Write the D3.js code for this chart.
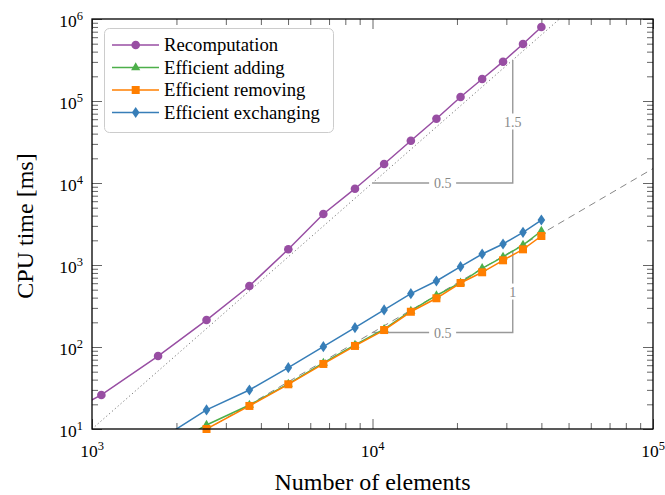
<!DOCTYPE html>
<html>
<head>
<meta charset="utf-8">
<script src="https://cdn.jsdelivr.net/npm/d3@7"></script>
<style>
  body { margin: 0; background: #fff; }
  svg { display: block; font-family: "Liberation Serif", "Times New Roman", serif; }
</style>
</head>
<body>
<svg id="chart" width="665" height="495"></svg>
<script>
// ---- data ----
const elements      = [630, 1080, 1720, 2560, 3640, 5010, 6680, 8660, 11000, 13700, 16900, 20600, 24600, 29200, 34400, 40000];
const recomputation = [10, 26, 77.6, 213, 555, 1553, 4190, 8520, 17050, 32800, 60800, 111900, 185500, 301500, 495700, 798700];
const effAdding     = [null, null, 5.1, 11.2, 19.6, 35.5, 64, 106, 165, 275, 425, 610, 912, 1258, 1750, 2600];
const effRemoving   = [null, null, 4.6, 10, 19.1, 35.1, 62.1, 103, 161, 269, 393, 603, 815, 1141, 1553, 2258];
const effExchanging = [null, null, 7.2, 17.1, 29.9, 55.9, 101, 172, 283, 447, 638, 953, 1362, 1803, 2505, 3537];
const seriesNames   = ["Recomputation", "Efficient adding", "Efficient removing", "Efficient exchanging"];
const xTickExps     = [3, 4, 5];
const yTickExps     = [1, 2, 3, 4, 5, 6];
const xTitle = "Number of elements";
const yTitle = "CPU time [ms]";

// ---- setup ----
const svg = d3.select("#chart");
const L = 92, R = 653, T = 19, B = 429;
const x = d3.scaleLog().domain([1e3, 1e5]).range([L, R]);
const y = d3.scaleLog().domain([1e1, 1e6]).range([B, T]);

const colors  = ["#984ea3", "#4daf4a", "#ff7f00", "#377eb8"];
const markers = ["circle", "triangle", "square", "diamond"];
const values  = [recomputation, effAdding, effRemoving, effExchanging];

svg.append("defs").append("clipPath").attr("id", "clip")
  .append("rect").attr("x", L).attr("y", T).attr("width", R - L).attr("height", B - T);

// ---- ticks (major + minor, inward, all four sides) ----
const xMajor = xTickExps.map(e => Math.pow(10, e));
const yMajor = yTickExps.map(e => Math.pow(10, e));
const xMinor = [], yMinor = [];
[1e3, 1e4].forEach(d => { for (let k = 2; k <= 9; k++) xMinor.push(k * d); });
[1e1, 1e2, 1e3, 1e4, 1e5].forEach(d => { for (let k = 2; k <= 9; k++) yMinor.push(k * d); });

function tickAxis(axisFn, scale, vals, size, tx, ty) {
  const g = svg.append("g").attr("transform", `translate(${tx},${ty})`)
    .call(axisFn(scale).tickValues(vals).tickSizeInner(-size).tickSizeOuter(0).tickFormat(""));
  g.select(".domain").remove();
  g.selectAll(".tick line").attr("stroke", "#666").attr("stroke-width", 1);
  g.selectAll(".tick text").remove();
  return g;
}
tickAxis(d3.axisBottom, x, xMinor, 6, 0, B);
tickAxis(d3.axisBottom, x, xMajor, 10, 0, B);
tickAxis(d3.axisTop, x, xMinor, 6, 0, T);
tickAxis(d3.axisTop, x, xMajor, 10, 0, T);
tickAxis(d3.axisLeft, y, yMinor, 6, L, 0);
tickAxis(d3.axisLeft, y, yMajor, 10, L, 0);
tickAxis(d3.axisRight, y, yMinor, 6, R, 0);
tickAxis(d3.axisRight, y, yMajor, 10, R, 0);

// tick labels with superscripts
const xl = svg.append("g").selectAll("text").data(xTickExps).join("text")
  .attr("x", d => x(Math.pow(10, d))).attr("y", B + 28)
  .attr("text-anchor", "middle").attr("font-size", 17.5).attr("fill", "#000");
xl.append("tspan").text("10");
xl.append("tspan").attr("dy", -7).attr("font-size", 12.5).text(d => d);

const yl = svg.append("g").selectAll("text").data(yTickExps).join("text")
  .attr("x", L - 9).attr("y", d => y(Math.pow(10, d)) + 8)
  .attr("text-anchor", "end").attr("font-size", 17.5).attr("fill", "#000");
yl.append("tspan").text("10");
yl.append("tspan").attr("dy", -7).attr("font-size", 12.5).text(d => d);

// axis titles
svg.append("text").attr("x", (L + R) / 2).attr("y", 490).attr("text-anchor", "middle")
  .attr("font-size", 24).text(xTitle);
svg.append("text").attr("transform", `translate(33,${(T + B) / 2 + 2}) rotate(-90)`)
  .attr("text-anchor", "middle").attr("font-size", 24).text(yTitle);

// ---- reference lines ----
const refG = svg.append("g").attr("clip-path", "url(#clip)");
const refX = [1e3, 1e5];
const line = d3.line().x(d => x(d[0])).y(d => y(d[1]));
refG.append("path").datum(refX.map(v => [v, Math.pow(v, 3) / 1e8]))
  .attr("d", line).attr("fill", "none").attr("stroke", "#777").attr("stroke-width", 1)
  .attr("stroke-dasharray", "1.2,2.6");
refG.append("path").datum(refX.map(v => [v, 1.5e-6 * v * v]))
  .attr("d", line).attr("fill", "none").attr("stroke", "#888").attr("stroke-width", 1)
  .attr("stroke-dasharray", "7,5");

// slope triangles
const tri = [
  { x0: 1e4, x1: Math.pow(10, 4.5), yb: 1e4, yt: Math.pow(10, 5.5), h: "0.5", v: "1.5" },
  { x0: 1e4, x1: Math.pow(10, 4.5), yb: 150, yt: 1500, h: "0.5", v: "1" }
];
tri.forEach(t => {
  svg.append("path").datum([[t.x0, t.yb], [t.x1, t.yb], [t.x1, t.yt]])
    .attr("d", line).attr("fill", "none").attr("stroke", "#999").attr("stroke-width", 1.4);
  const labels = [
    { px: x(Math.sqrt(t.x0 * t.x1)), py: y(t.yb), s: t.h },
    { px: x(t.x1), py: y(Math.sqrt(t.yb * t.yt)), s: t.v }
  ];
  labels.forEach(lb => {
    const w = lb.s.length * 7 + 6;
    svg.append("rect").attr("x", lb.px - w / 2).attr("y", lb.py - 8).attr("width", w).attr("height", 16).attr("fill", "#fff");
    svg.append("text").attr("x", lb.px).attr("y", lb.py + 5).attr("text-anchor", "middle")
      .attr("font-size", 14).attr("fill", "#888").text(lb.s);
  });
});

// ---- markers ----
function drawMarker(g, type, cx, cy, color) {
  if (type === "circle") {
    g.append("circle").attr("cx", cx).attr("cy", cy).attr("r", 4.3).attr("fill", color);
  } else if (type === "square") {
    g.append("rect").attr("x", cx - 4).attr("y", cy - 4).attr("width", 8).attr("height", 8).attr("fill", color);
  } else if (type === "triangle") {
    g.append("path").attr("d", `M${cx},${cy - 5.2}L${cx + 4.6},${cy + 2.8}L${cx - 4.6},${cy + 2.8}Z`).attr("fill", color);
  } else {
    g.append("path").attr("d", `M${cx},${cy - 5.6}L${cx + 3.8},${cy}L${cx},${cy + 5.6}L${cx - 3.8},${cy}Z`).attr("fill", color);
  }
}

// ---- data series ----
const dataG = svg.append("g");
values.forEach((vals, i) => {
  const pts = elements.map((e, j) => [e, vals[j]]).filter(d => d[1] != null);
  dataG.append("path").datum(pts).attr("clip-path", "url(#clip)")
    .attr("d", line).attr("fill", "none").attr("stroke", colors[i]).attr("stroke-width", 1.5);
});
values.forEach((vals, i) => {
  const g = dataG.append("g");
  elements.forEach((e, j) => {
    const v = vals[j];
    if (v == null || e < 1e3 || v < 9.9) return;
    drawMarker(g, markers[i], x(e), y(v), colors[i]);
  });
});

// frame
svg.append("rect").attr("x", L).attr("y", T).attr("width", R - L).attr("height", B - T)
  .attr("fill", "none").attr("stroke", "#000").attr("stroke-width", 1.3);

// ---- legend ----
const lg = svg.append("g");
lg.append("rect").attr("x", 104.5).attr("y", 28.5).attr("width", 229).attr("height", 104).attr("rx", 5)
  .attr("fill", "#fff").attr("stroke", "#ccc").attr("stroke-width", 1);
seriesNames.forEach((name, i) => {
  const ry = 45 + i * 22.5;
  lg.append("line").attr("x1", 112).attr("x2", 159).attr("y1", ry).attr("y2", ry)
    .attr("stroke", colors[i]).attr("stroke-width", 1.5);
  drawMarker(lg, markers[i], 135.7, ry, colors[i]);
  lg.append("text").attr("x", 164).attr("y", ry + 6).attr("font-size", 18.7).text(name);
});
</script>
</body>
</html>
